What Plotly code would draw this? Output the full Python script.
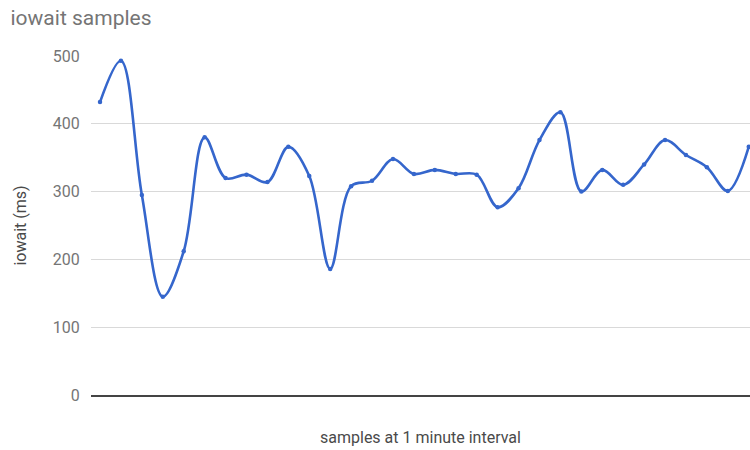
import plotly.graph_objects as go

# iowait readings, one per minute
samples = list(range(1, 33))
iowait_ms = [432, 493, 295, 145, 212, 380, 320, 325, 314, 366, 323, 186,
             308, 316, 348, 326, 332, 326, 325, 277, 305, 376, 417, 300,
             332, 310, 340, 376, 354, 336, 301, 366]
y_ticks = [0, 100, 200, 300, 400, 500]

FONT = "Roboto, Arial, sans-serif"
GREY = "#757575"
DARK = "#4a4a4a"

fig = go.Figure()
fig.add_trace(go.Scatter(
    x=samples, y=iowait_ms, mode="lines+markers",
    line=dict(color="#3566cc", width=2.6, shape="spline", smoothing=1.0),
    marker=dict(size=4.5, color="#3566cc"),
    cliponaxis=True, hoverinfo="skip", showlegend=False,
))

fig.update_layout(
    width=750, height=450,
    margin=dict(l=91, r=0, t=56, b=55),
    paper_bgcolor="white", plot_bgcolor="white",
    font=dict(family=FONT, color=GREY, size=16),
    title=dict(text="iowait samples", xref="container", xanchor="left",
               x=0.014, yref="container", y=0.96, yanchor="middle",
               font=dict(family=FONT, size=21, color=GREY)),
    xaxis=dict(range=[0.57, 32.06], showgrid=False, showticklabels=False,
               zeroline=False, showline=True, linecolor="#444", linewidth=1.5,
               title=dict(text="samples at 1 minute interval", standoff=36,
                          font=dict(family=FONT, size=16, color=DARK))),
    yaxis=dict(range=[0, 500], tickvals=y_ticks, showgrid=True,
               gridcolor="#d9d9d9", gridwidth=1, zeroline=False,
               ticks="outside", ticklen=7, tickcolor="rgba(0,0,0,0)",
               tickfont=dict(family=FONT, size=16, color=GREY),
               title=dict(text="iowait (ms)", standoff=22,
                          font=dict(family=FONT, size=16, color=DARK))),
)

fig.write_html("out.html")
